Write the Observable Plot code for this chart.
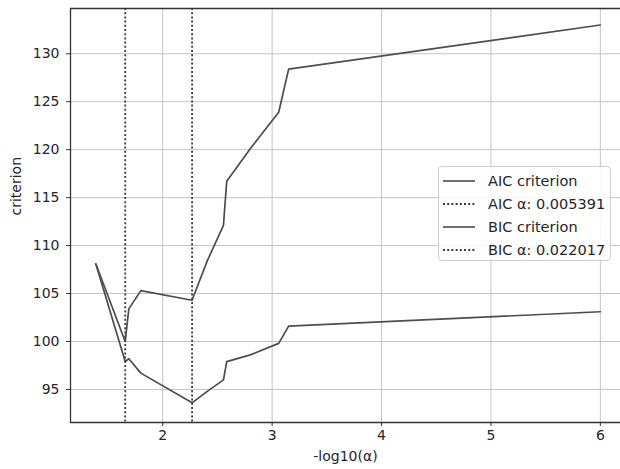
<!DOCTYPE html>
<html>
<head>
<meta charset="utf-8">
<script src="https://cdn.jsdelivr.net/npm/d3@7"></script>
<script src="https://cdn.jsdelivr.net/npm/@observablehq/plot@0.6"></script>
<style>
  html, body { margin: 0; padding: 0; background: #fff; }
  body { width: 620px; height: 469px; overflow: hidden; position: relative; font-family: "DejaVu Sans", sans-serif; }
  #legend { position: absolute; left: 438px; top: 166px; width: 173px; height: 95px; box-sizing: border-box;
    border: 1px solid #cfcfcf; border-radius: 4px; background: rgba(255,255,255,0.85); }
  .row { position: absolute; left: 0; height: 20px; display: flex; align-items: center; font-size: 14.5px; color: #262626; white-space: nowrap; }
  .row svg { margin-left: 4px; margin-right: 13px; }
</style>
</head>
<body>
<div id="chart"></div>
<script>
// -log10(alpha) along the LARS path
const negLogAlpha = [1.388, 1.657, 1.690, 1.800, 2.268, 2.407, 2.555, 2.585, 2.800, 3.060, 3.151, 6.000];
const aicValues   = [108.1, 97.9, 98.2, 96.7, 93.6, 94.8, 96.0, 97.9, 98.6, 99.8, 101.6, 103.1];
const bicValues   = [108.1, 100.0, 103.4, 105.3, 104.3, 108.4, 112.1, 116.7, 120.1, 123.9, 128.4, 133.0];
const seriesNames = ["AIC criterion", "BIC criterion"];
const selectedAlphas = [0.005391, 0.022017];   // AIC, BIC
const legendLabels = ["AIC criterion", "AIC α: 0.005391", "BIC criterion", "BIC α: 0.022017"];
const xTicks = [2, 3, 4, 5, 6];
const yTicks = [95, 100, 105, 110, 115, 120, 125, 130];
const xDomain = [1.157, 6.23];
const yDomain = [91.55, 134.72];

const rows = [];
negLogAlpha.forEach((x, i) => rows.push({x, y: aicValues[i], s: seriesNames[0]}));
negLogAlpha.forEach((x, i) => rows.push({x, y: bicValues[i], s: seriesNames[1]}));
const ruleXs = selectedAlphas.map(a => -Math.log10(a));

const lineColor = "#4d4d4d";
const plot = Plot.plot({
  width: 620,
  height: 469,
  marginLeft: 70,
  marginTop: 8,
  marginBottom: 47,
  marginRight: 0,
  style: {fontFamily: "DejaVu Sans, sans-serif", fontSize: "14px", color: "#262626", background: "white", overflow: "hidden"},
  x: {domain: xDomain, range: [70, 625]},
  y: {domain: yDomain},
  marks: [
    Plot.gridX(xTicks, {stroke: "#c4c4c4", strokeOpacity: 1, strokeWidth: 1}),
    Plot.gridY(yTicks, {stroke: "#c4c4c4", strokeOpacity: 1, strokeWidth: 1}),
    Plot.axisX(xTicks, {tickSize: 4, tickPadding: 4, label: null, stroke: "#333", fill: "#262626"}),
    Plot.axisY(yTicks, {tickSize: 4, tickPadding: 7, label: null, stroke: "#333", fill: "#262626"}),
    Plot.line(rows, {x: "x", y: "y", z: "s", stroke: lineColor, strokeWidth: 1.7}),
    Plot.ruleX(ruleXs, {stroke: "#3a3a3a", strokeWidth: 1.8, strokeDasharray: "2,2.2"}),
    Plot.ruleX([xDomain[0]], {stroke: "#333", strokeWidth: 1.3}),
    Plot.ruleY(yDomain, {stroke: "#333", strokeWidth: 1.3}),
    Plot.text(["criterion"], {frameAnchor: "left", rotate: -90, dx: -54, fontSize: 14, fill: "#262626"}),
    Plot.text(["-log10(α)"], {frameAnchor: "bottom", dy: 38, fontSize: 14, fill: "#262626"})
  ]
});
document.getElementById("chart").appendChild(plot);

// legend
const legend = document.createElement("div");
legend.id = "legend";
legendLabels.forEach((lab, i) => {
  const r = document.createElement("div");
  r.className = "row";
  r.style.top = (4 + i * 23) + "px";
  const dotted = lab.includes("α");
  r.innerHTML = `<svg width="32" height="10"><line x1="0" x2="32" y1="5" y2="5" stroke="${dotted ? '#3a3a3a' : lineColor}" stroke-width="${dotted ? 1.8 : 1.6}" ${dotted ? 'stroke-dasharray="2,2.2"' : ''}/></svg><span>${lab}</span>`;
  legend.appendChild(r);
});
document.body.appendChild(legend);
</script>
</body>
</html>
